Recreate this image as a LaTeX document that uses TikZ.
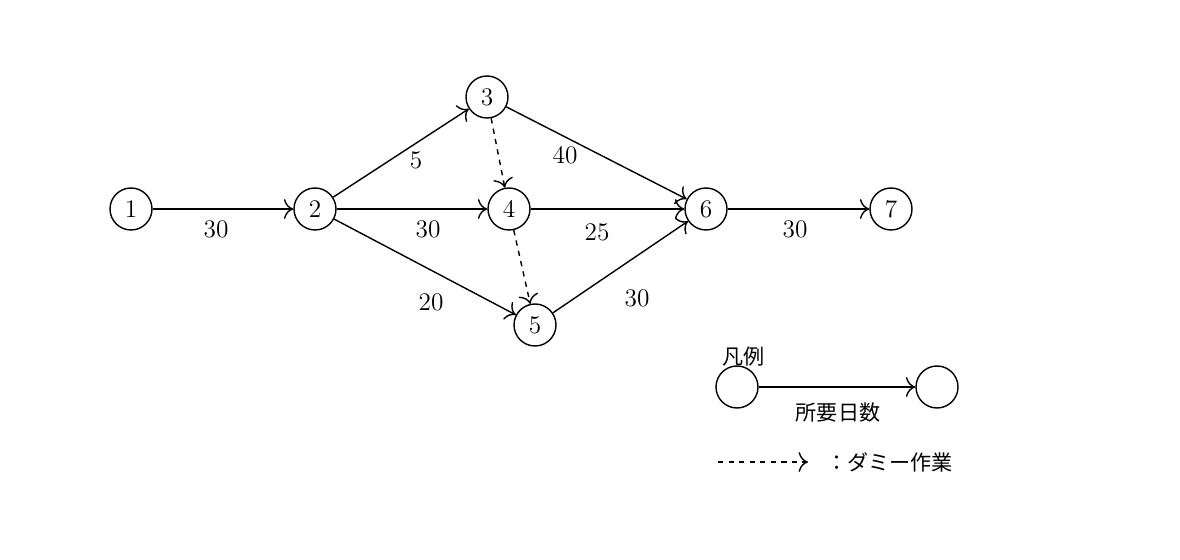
\documentclass[tikz,border=0pt]{standalone}
\usepackage{fontspec}
\newfontfamily\cjk{Noto Sans CJK JP}
\usetikzlibrary{arrows.meta}
\begin{document}
\begin{tikzpicture}[x=0.02cm,y=-0.02cm,font=\Large,
    ev/.style={circle,draw,thick,minimum size=0.84cm,inner sep=0pt},
    act/.style={-{To[scale=1.6]},thick},
    dummy/.style={-{To[scale=1.6]},thick,dashed}]
    \useasboundingbox (0,0) rectangle (1180,560);
    \node [ev] (one) at (131,209) {1};
    \node [ev] (two) at (315,209) {2};
    \node [ev] (three) at (487,97) {3};
    \node [ev] (four) at (509,209) {4};
    \node [ev] (five) at (535,325) {5};
    \node [ev] (six) at (706,209) {6};
    \node [ev] (seven) at (891,209) {7};
    \path[act] (one) edge (two);
    \path[act] (two) edge (three);
    \path[act] (two) edge (four);
    \path[act] (two) edge (five);
    \path[act] (three) edge (six);
    \path[act] (four) edge (six);
    \path[act] (five) edge (six);
    \path[act] (six) edge (seven);
    \path[dummy] (three) edge (four);
    \path[dummy] (four) edge (five);
    \node at (216,229) {30};
    \node at (416,160) {5};
    \node at (428,229) {30};
    \node at (431,302) {20};
    \node at (565,155) {40};
    \node at (597,232) {25};
    \node at (637,298) {30};
    \node at (795,229) {30};
    % legend
    \node [anchor=west,font=\cjk\large] (legend) at (716,357) {凡例};
    \node [ev] (from) at (737,387) {};
    \node [ev] (to) at (937,387) {};
    \path[act] (from) edge (to);
    \node [font=\cjk\large] at (838,413) {所要日数};
    \coordinate (da) at (718,462);
    \coordinate (db) at (808,462);
    \path[dummy] (da) edge (db);
    \node [anchor=west,font=\cjk\large] at (820,462) {：ダミー作業};
\end{tikzpicture}
\end{document}
